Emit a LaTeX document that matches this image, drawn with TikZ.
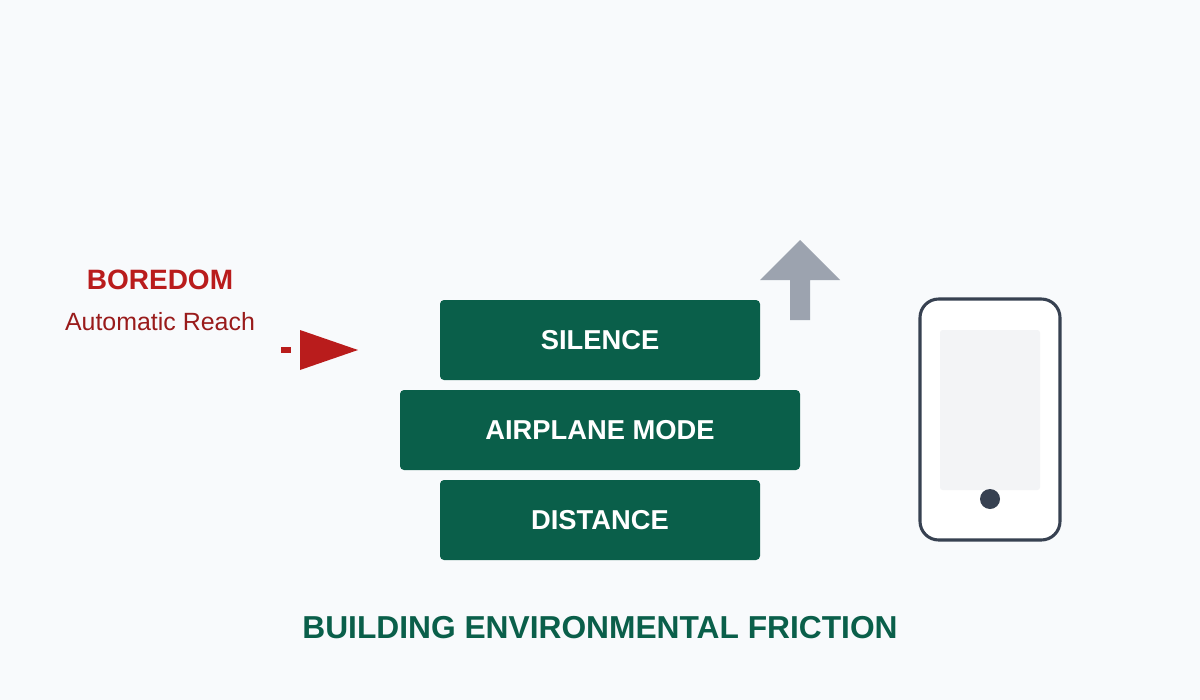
\documentclass[tikz,border=0pt]{standalone}
\usepackage{fontspec}
\setmainfont{Liberation Sans}
\usetikzlibrary{positioning}
\definecolor{bgc}{HTML}{F8FAFC}
\definecolor{frgreen}{HTML}{0A5F4A}
\definecolor{frred}{HTML}{B91C1C}
\definecolor{frdark}{HTML}{991B1B}
\definecolor{frgray}{HTML}{9CA3AF}
\definecolor{frslate}{HTML}{374151}
\definecolor{frscreen}{HTML}{F3F4F6}
\tikzset{
  block/.style={fill=frgreen, rounded corners=3pt, text=white, font=\bfseries\fontsize{20.5}{20.5}\selectfont, minimum height=60pt, inner sep=0pt}
}
\begin{document}
\begin{tikzpicture}[x=0.75pt,y=-0.75pt]
%background
\fill [bgc] (0,0) rectangle (1200,700);
\useasboundingbox (0,0) rectangle (1200,700);

%blocks
\node [block, minimum width=240pt] (silence) at (600,340) {SILENCE};
\node [block, minimum width=300pt] (airplane) at (600,430) {AIRPLANE MODE};
\node [block, minimum width=240pt] (distance) at (600,520) {DISTANCE};

%labels left
\node [text=frred, font=\bfseries\fontsize{21}{21}\selectfont] (boredom) at (160,280) {BOREDOM};
\node [text=frdark, font=\fontsize{18.7}{18.7}\selectfont] (reach) at (160,322) {Automatic Reach};

%red arrow
\fill [frred] (281,347) rectangle (291,353);
\fill [frred] (300,330) -- (358,350) -- (300,370) -- cycle;

%up arrow
\fill [frgray] (790,320) -- (790,280) -- (760,280) -- (800,240) -- (840,280) -- (810,280) -- (810,320) -- cycle;

%phone
\draw [frslate, line width=2.3pt, fill=white, rounded corners=14pt] (920,299) rectangle (1060,540);
\fill [frscreen, rounded corners=2pt] (940,330) rectangle (1040,490);
\fill [frslate] (990,499) circle [radius=7.5pt];

%title
\node [text=frgreen, font=\bfseries\fontsize{23.8}{23.8}\selectfont] (title) at (600,628) {BUILDING ENVIRONMENTAL FRICTION};
\end{tikzpicture}
\end{document}
